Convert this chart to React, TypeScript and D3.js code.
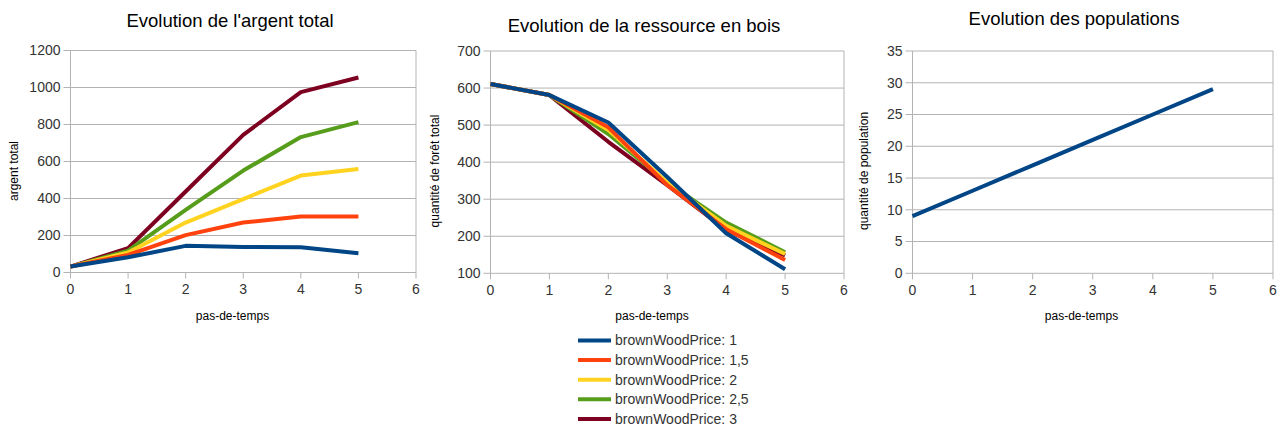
import React from "react";
import * as d3 from "d3";

const steps = [0, 1, 2, 3, 4, 5];
const seriesNames = ["brownWoodPrice: 1", "brownWoodPrice: 1,5", "brownWoodPrice: 2", "brownWoodPrice: 2,5", "brownWoodPrice: 3"];
const seriesColors = ["#004586", "#ff420e", "#ffd320", "#579d1c", "#7e0021"];

const argent1 = [32, 82, 144, 138, 137, 104];
const argent15 = [32, 95, 202, 270, 303, 303];
const argent2 = [32, 108, 270, 397, 524, 559];
const argent25 = [32, 118, 339, 551, 732, 813];
const argent3 = [32, 132, 438, 744, 975, 1054];

const bois1 = [611, 581, 507, 360, 208, 111];
const bois15 = [611, 581, 494, 338, 219, 136];
const bois2 = [611, 581, 487, 345, 228, 152];
const bois25 = [611, 581, 476, 345, 237, 157];
const bois3 = [611, 581, 455, 338, 217, 148];

const pop1 = [9, 13, 17, 21, 25, 29];

const xTicks = [0, 1, 2, 3, 4, 5, 6];
const argentTicks = [0, 200, 400, 600, 800, 1000, 1200];
const boisTicks = [100, 200, 300, 400, 500, 600, 700];
const popTicks = [0, 5, 10, 15, 20, 25, 30, 35];

const FONT = "'Liberation Sans', Arial, sans-serif";

type PanelProps = {
  title: string;
  titleX: number;
  titleY: number;
  yLabel: string;
  yLabelX: number;
  xLabelX: number;
  x0: number;
  x1: number;
  yTop: number;
  yBottom: number;
  yDomain: [number, number];
  yTicks: number[];
  data: number[][];
};

function Panel(p: PanelProps) {
  const x = d3.scaleLinear().domain([0, 6]).range([p.x0, p.x1]);
  const y = d3.scaleLinear().domain(p.yDomain).range([p.yBottom, p.yTop]);
  const line = d3
    .line<number>()
    .x((_, i) => x(steps[i]))
    .y((d) => y(d));
  const order = [4, 3, 2, 1, 0].filter((i) => i < p.data.length);
  return (
    <g>
      <text x={p.titleX} y={p.titleY} textAnchor="middle" fontSize={18.5} fill="#000" fontFamily={FONT}>
        {p.title}
      </text>
      {p.yTicks.map((t) => (
        <g key={"y" + t}>
          <line x1={p.x0 - 7} x2={p.x1} y1={y(t)} y2={y(t)} stroke="#b3b3b3" strokeWidth={1} />
          <text x={p.x0 - 10} y={y(t)} dy="0.35em" textAnchor="end" fontSize={14} fill="#333" fontFamily={FONT}>
            {t}
          </text>
        </g>
      ))}
      <line x1={x(0)} x2={x(0)} y1={p.yTop} y2={p.yBottom} stroke="#b3b3b3" strokeWidth={1} />
      <line x1={x(6)} x2={x(6)} y1={p.yTop} y2={p.yBottom} stroke="#b3b3b3" strokeWidth={1} />
      {xTicks.map((t) => (
        <g key={"x" + t}>
          <line x1={x(t)} x2={x(t)} y1={p.yBottom} y2={p.yBottom + 6} stroke="#b3b3b3" strokeWidth={1} />
          <text x={x(t)} y={p.yBottom + 17} dy="0.35em" textAnchor="middle" fontSize={14} fill="#333" fontFamily={FONT}>
            {t}
          </text>
        </g>
      ))}
      {order.map((i) => (
        <path
          key={"s" + i}
          d={line(p.data[i]) || ""}
          fill="none"
          stroke={seriesColors[i]}
          strokeWidth={4}
          strokeLinejoin="round"
        />
      ))}
      <text
        transform={`translate(${p.yLabelX},171) rotate(-90)`}
        textAnchor="middle"
        dy="0.35em"
        fontSize={12}
        fill="#000"
        fontFamily={FONT}
      >
        {p.yLabel}
      </text>
      <text x={p.xLabelX} y={316} dy="0.35em" textAnchor="middle" fontSize={12} fill="#000" fontFamily={FONT}>
        pas-de-temps
      </text>
    </g>
  );
}

export default function App() {
  return (
    <svg width={1284} height={428} style={{ position: "absolute", left: 0, top: 0, background: "#fff" }}>
      <rect width={1284} height={428} fill="#fff" />
      <Panel
        title="Evolution de l'argent total"
        titleX={230}
        titleY={27}
        yLabel="argent total"
        yLabelX={14}
        xLabelX={232.5}
        x0={70.5}
        x1={416}
        yTop={50.5}
        yBottom={272.5}
        yDomain={[0, 1200]}
        yTicks={argentTicks}
        data={[argent1, argent15, argent2, argent25, argent3]}
      />
      <Panel
        title="Evolution de la ressource en bois"
        titleX={644}
        titleY={32}
        yLabel="quantité de forêt total"
        yLabelX={435}
        xLabelX={652}
        x0={490.5}
        x1={844}
        yTop={51}
        yBottom={273.3}
        yDomain={[100, 700]}
        yTicks={boisTicks}
        data={[bois1, bois15, bois2, bois25, bois3]}
      />
      <Panel
        title="Evolution des populations"
        titleX={1074}
        titleY={25}
        yLabel="quantité de population"
        yLabelX={864}
        xLabelX={1081.5}
        x0={912.5}
        x1={1273}
        yTop={51}
        yBottom={273.3}
        yDomain={[0, 35]}
        yTicks={popTicks}
        data={[pop1]}
      />
      {seriesNames.map((n, i) => (
        <g key={n} transform={`translate(0,${340.5 + i * 19.6})`}>
          <line x1={578} x2={611} y1={0} y2={0} stroke={seriesColors[i]} strokeWidth={4} />
          <text x={615} y={0} dy="0.35em" fontSize={14} fill="#333" fontFamily={FONT}>
            {n}
          </text>
        </g>
      ))}
    </svg>
  );
}
